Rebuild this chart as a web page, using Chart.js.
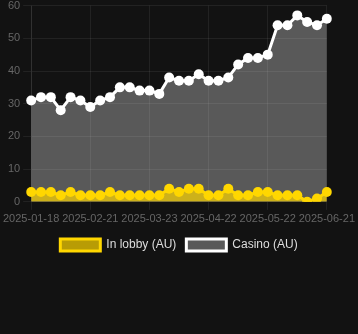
<html lang="en">
<head>
    <meta charset="UTF-8">
    <title>Lobby vs Casino</title>
    <style>
        body {
            margin: 0;
            background-color: #121212;
        }
        .chart-box {
            position: relative;
            width: 358px;
            height: 265px;
            margin-top: -4px; /* reference plot starts a bit higher */
        }
    </style>
</head>
<body>
    <div class="chart-box">
        <canvas id="lineChart"></canvas>
    </div>

    <script src="https://cdn.jsdelivr.net/npm/chart.js"></script>
    <script>
        const dates = [
            '2025-01-18', '2025-01-24', '2025-01-30', '2025-02-04', '2025-02-09', '2025-02-15',
            '2025-02-21', '2025-02-26', '2025-03-03', '2025-03-08', '2025-03-13', '2025-03-18',
            '2025-03-23', '2025-03-28', '2025-04-02', '2025-04-07', '2025-04-12', '2025-04-17',
            '2025-04-22', '2025-04-27', '2025-05-02', '2025-05-07', '2025-05-12', '2025-05-17',
            '2025-05-22', '2025-05-27', '2025-06-01', '2025-06-06', '2025-06-11', '2025-06-16',
            '2025-06-21'
        ];
        const inLobby = [3, 3, 3, 2, 3, 2, 2, 2, 3, 2, 2, 2, 2, 2, 4, 3, 4, 4, 2, 2, 4, 2, 2, 3, 3, 2, 2, 2, 0, 1, 3];
        const casino = [31, 32, 32, 28, 32, 31, 29, 31, 32, 35, 35, 34, 34, 33, 38, 37, 37, 39, 37, 37, 38, 42, 44, 44, 45, 54, 54, 57, 55, 54, 56];
        const yTicks = [0, 10, 20, 30, 40, 50, 60];

        Chart.defaults.font.family = "'Liberation Sans', Arial, sans-serif";

        const ctx = document.getElementById('lineChart').getContext('2d');
        new Chart(ctx, {
            type: 'line',
            data: {
                labels: dates,
                datasets: [{
                    label: 'In lobby (AU)',
                    data: inLobby,
                    borderColor: '#ffd700',
                    backgroundColor: 'rgba(255, 215, 0, 0.7)',
                    pointBackgroundColor: '#ffd700',
                    borderWidth: 3,
                    pointRadius: 5,
                    pointBorderWidth: 0,
                    fill: 'origin',
                    tension: 0
                }, {
                    label: 'Casino (AU)',
                    data: casino,
                    borderColor: '#ffffff',
                    backgroundColor: 'rgba(255, 255, 255, 0.3)',
                    pointBackgroundColor: '#ffffff',
                    borderWidth: 3,
                    pointRadius: 5,
                    pointBorderWidth: 0,
                    fill: 'origin',
                    tension: 0
                }]
            },
            options: {
                responsive: true,
                maintainAspectRatio: false,
                animation: false,
                scales: {
                    x: {
                        grid: { color: 'rgba(255, 255, 255, 0.07)' },
                        border: { color: 'rgba(255, 255, 255, 0.07)' },
                        ticks: {
                            color: '#666',
                            font: { size: 11 },
                            maxRotation: 0,
                            autoSkip: true,
                            maxTicksLimit: 6
                        }
                    },
                    y: {
                        min: yTicks[0],
                        max: yTicks[yTicks.length - 1],
                        grid: { color: 'rgba(255, 255, 255, 0.07)' },
                        border: { color: 'rgba(255, 255, 255, 0.07)' },
                        ticks: {
                            color: '#666',
                            font: { size: 11 },
                            stepSize: 10
                        }
                    }
                },
                plugins: {
                    legend: {
                        position: 'bottom',
                        labels: {
                            color: '#ddd',
                            font: { size: 12 },
                            boxWidth: 40,
                            boxHeight: 12
                        }
                    },
                    tooltip: { enabled: false }
                }
            }
        });
    </script>
</body>
</html>
